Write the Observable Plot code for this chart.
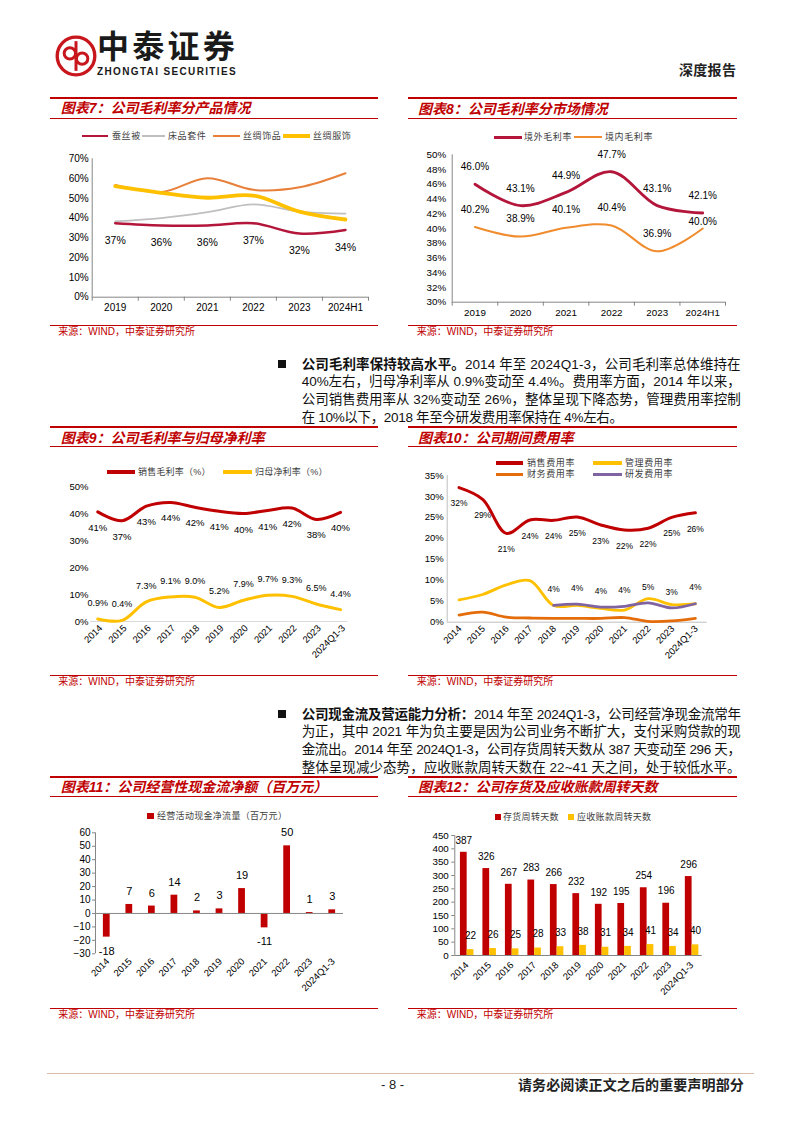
<!DOCTYPE html>
<html><head><meta charset="utf-8">
<script src="https://cdn.jsdelivr.net/npm/d3@7"></script>
<script src="https://cdn.jsdelivr.net/npm/@observablehq/plot@0.6"></script>
<style>
html,body{margin:0;padding:0;background:#fff;}
#page{position:relative;width:802px;height:1133px;overflow:hidden;font-family:"Liberation Sans","Noto Sans CJK SC",sans-serif;background:#fff;}
.hl{position:absolute;background:#C00000;}
.title{position:absolute;color:#C00000;font-weight:700;font-style:italic;font-size:14px;line-height:18px;white-space:nowrap;}
.src{position:absolute;color:#C00000;font-size:10px;line-height:12px;white-space:nowrap;}
.leg{position:absolute;font-size:9px;line-height:11px;white-space:nowrap;color:#404040;letter-spacing:0.6px;}
.lm{position:absolute;}
.pl{position:absolute;left:301.7px;height:17px;line-height:17px;font-size:13.5px;color:#111;white-space:nowrap;}
.pl b{font-weight:700;}
.bul{position:absolute;width:8px;height:8px;background:#111;}
svg{overflow:visible;}
</style>
</head><body>
<div id="page">
  <!-- header -->
  <svg class="lm" style="left:55px;top:35px" width="42" height="42" viewBox="0 0 48 48">
    <circle cx="24" cy="24" r="21.5" fill="none" stroke="#C8161D" stroke-width="3.8"/>
    <circle cx="17" cy="21" r="6.5" fill="none" stroke="#C8161D" stroke-width="3.4"/>
    <circle cx="31" cy="27" r="6.5" fill="none" stroke="#C8161D" stroke-width="3.4"/>
    <line x1="24" y1="7" x2="24" y2="41" stroke="#C8161D" stroke-width="3.4"/>
  </svg>
  <div class="lm fitw" data-w="141" style="left:97px;top:31px;font-size:32px;line-height:33px;height:33px;font-weight:700;color:#1a1a1a;white-space:nowrap;">中泰证券</div>
  <div class="lm fitw" data-w="140" style="left:97px;top:66px;font-size:10px;line-height:12px;height:12px;font-weight:700;color:#1a1a1a;white-space:nowrap;">ZHONGTAI SECURITIES</div>
  <div class="lm" style="left:679px;top:61px;font-size:14px;line-height:18px;font-weight:700;color:#222;white-space:nowrap;letter-spacing:0.3px;">深度报告</div>

  <!-- chart 7/8 frame -->
  <div class="hl" style="left:50px;top:97px;width:328px;height:2px"></div>
  <div class="hl" style="left:408px;top:97px;width:329px;height:2px"></div>
  <div class="title" style="left:60.7px;top:99.3px">图表7：公司毛利率分产品情况</div>
  <div class="title" style="left:418px;top:100px">图表8：公司毛利率分市场情况</div>
  <div class="hl" style="left:50px;top:118px;width:328px;height:1px"></div>
  <div class="hl" style="left:408px;top:118px;width:329px;height:1px"></div>
  <div class="hl" style="left:50px;top:325px;width:328px;height:1px"></div>
  <div class="hl" style="left:408px;top:325px;width:329px;height:1px"></div>
  <div class="src" style="left:58.3px;top:326.3px">来源：WIND，中泰证券研究所</div>
  <div class="src" style="left:416.7px;top:326.3px">来源：WIND，中泰证券研究所</div>

  <!-- legend 7 -->
  <div class="lm" style="left:82px;top:134.5px;width:26px;height:2.6px;background:#B3163A"></div>
  <div class="leg" style="left:112px;top:130.5px">蚕丝被</div>
  <div class="lm" style="left:142px;top:135px;width:23px;height:1.8px;background:#BFBFBF"></div>
  <div class="leg" style="left:168px;top:130.5px">床品套件</div>
  <div class="lm" style="left:213px;top:135px;width:27px;height:2px;background:#E8803A"></div>
  <div class="leg" style="left:243px;top:130.5px">丝绸饰品</div>
  <div class="lm" style="left:283px;top:134px;width:27px;height:4px;background:#FFC000"></div>
  <div class="leg" style="left:313px;top:130.5px">丝绸服饰</div>
  <!-- legend 8 -->
  <div class="lm" style="left:494px;top:135.5px;width:28px;height:3px;background:#B3163A"></div>
  <div class="leg" style="left:524px;top:131.5px">境外毛利率</div>
  <div class="lm" style="left:574px;top:136px;width:28px;height:2px;background:#F08C2E"></div>
  <div class="leg" style="left:605px;top:131.5px">境内毛利率</div>

  <!-- paragraph 1 -->
  <div class="bul" style="left:277.7px;top:360px"></div>
  <div class="pl" data-w="439" style="top:355.5px"><b>公司毛利率保持较高水平。</b>2014 年至 2024Q1-3，公司毛利率总体维持在</div>
  <div class="pl" data-w="439" style="top:373.2px">40%左右，归母净利率从 0.9%变动至 4.4%。费用率方面，2014 年以来，</div>
  <div class="pl" data-w="439" style="top:390.9px">公司销售费用率从 32%变动至 26%，整体呈现下降态势，管理费用率控制</div>
  <div class="pl" data-w="321" style="top:408.6px">在 10%以下，2018 年至今研发费用率保持在 4%左右。</div>

  <!-- chart 9/10 frame -->
  <div class="hl" style="left:50px;top:425.5px;width:328px;height:2px"></div>
  <div class="hl" style="left:408px;top:425.5px;width:329px;height:2px"></div>
  <div class="title" style="left:60.7px;top:429.3px">图表9：公司毛利率与归母净利率</div>
  <div class="title" style="left:418px;top:429px">图表10：公司期间费用率</div>
  <div class="hl" style="left:50px;top:445.5px;width:328px;height:1px"></div>
  <div class="hl" style="left:408px;top:445.5px;width:329px;height:1px"></div>
  <div class="hl" style="left:50px;top:675px;width:328px;height:1px"></div>
  <div class="hl" style="left:408px;top:675px;width:329px;height:1px"></div>
  <div class="src" style="left:58.3px;top:675.7px">来源：WIND，中泰证券研究所</div>
  <div class="src" style="left:416.7px;top:675.7px">来源：WIND，中泰证券研究所</div>
  <!-- legend 9 -->
  <div class="lm" style="left:107px;top:470px;width:28px;height:3.6px;background:#C00000"></div>
  <div class="leg" style="left:138px;top:466.5px;letter-spacing:0.2px">销售毛利率（%）</div>
  <div class="lm" style="left:223px;top:470px;width:29px;height:3.6px;background:#FFC000"></div>
  <div class="leg" style="left:255px;top:466.5px;letter-spacing:0.2px">归母净利率（%）</div>
  <!-- legend 10 -->
  <div class="lm" style="left:496px;top:461px;width:27px;height:3.6px;background:#C00000"></div>
  <div class="leg" style="left:527px;top:457.5px">销售费用率</div>
  <div class="lm" style="left:593px;top:461px;width:29px;height:3.6px;background:#FFC000"></div>
  <div class="leg" style="left:625px;top:457.5px">管理费用率</div>
  <div class="lm" style="left:496px;top:472.5px;width:27px;height:3.6px;background:#E46C0A"></div>
  <div class="leg" style="left:527px;top:469px">财务费用率</div>
  <div class="lm" style="left:593px;top:472.5px;width:29px;height:3.6px;background:#8064A2"></div>
  <div class="leg" style="left:625px;top:469px">研发费用率</div>

  <!-- paragraph 2 -->
  <div class="bul" style="left:277.7px;top:710px"></div>
  <div class="pl" data-w="439" style="top:705.5px"><b>公司现金流及营运能力分析：</b>2014 年至 2024Q1-3，公司经营净现金流常年</div>
  <div class="pl" data-w="439" style="top:723.2px">为正，其中 2021 年为负主要是因为公司业务不断扩大，支付采购贷款的现</div>
  <div class="pl" data-w="439" style="top:740.9px">金流出。2014 年至 2024Q1-3，公司存货周转天数从 387 天变动至 296 天，</div>
  <div class="pl" data-w="439" style="top:758.6px">整体呈现减少态势，应收账款周转天数在 22~41 天之间，处于较低水平。</div>

  <!-- chart 11/12 frame -->
  <div class="hl" style="left:50px;top:775.5px;width:328px;height:2px"></div>
  <div class="hl" style="left:408px;top:775.5px;width:329px;height:2px"></div>
  <div class="title" style="left:60.7px;top:777.7px">图表11：公司经营性现金流净额（百万元）</div>
  <div class="title" style="left:418px;top:777.7px">图表12：公司存货及应收账款周转天数</div>
  <div class="hl" style="left:50px;top:795.5px;width:328px;height:1px"></div>
  <div class="hl" style="left:408px;top:795.5px;width:329px;height:1px"></div>
  <div class="hl" style="left:50px;top:1008px;width:328px;height:1px"></div>
  <div class="hl" style="left:408px;top:1007.5px;width:329px;height:1px"></div>
  <div class="src" style="left:58.3px;top:1009px">来源：WIND，中泰证券研究所</div>
  <div class="src" style="left:416.7px;top:1008.5px">来源：WIND，中泰证券研究所</div>
  <!-- legend 11 -->
  <div class="lm" style="left:147px;top:812.7px;width:6.5px;height:6.5px;background:#C00000"></div>
  <div class="leg" style="left:157px;top:810.5px;letter-spacing:0.3px">经营活动现金净流量（百万元）</div>
  <!-- legend 12 -->
  <div class="lm" style="left:494.5px;top:813.7px;width:6px;height:6px;background:#C00000"></div>
  <div class="leg" style="left:503px;top:811.5px;letter-spacing:0.3px">存货周转天数</div>
  <div class="lm" style="left:567.5px;top:813.7px;width:6px;height:6px;background:#FFC000"></div>
  <div class="leg" style="left:577px;top:811.5px;letter-spacing:0.3px">应收账款周转天数</div>

  <!-- footer -->
  <div class="lm" style="left:47px;top:1072.5px;width:707px;height:1.5px;background:#D6BBA8"></div>
  <div class="lm" style="left:381px;top:1077px;font-size:13px;line-height:16px;color:#222;white-space:nowrap;">- 8 -</div>
  <div class="lm fitw" data-w="226" style="left:518px;top:1076px;font-size:14px;line-height:18px;font-weight:700;color:#222;white-space:nowrap;">请务必阅读正文之后的重要声明部分</div>
</div>
<script>
// ---------- data ----------
const years7 = ["2019", "2020", "2021", "2022", "2023", "2024H1"];
const silkQuilt = [37.4, 36.3, 36.3, 37.4, 32.2, 34.0];        // 蚕丝被
const beddingSet = [38.3, 40.0, 43.0, 46.9, 43.3, 42.3];       // 床品套件
const silkAccessories = [56.8, 53.2, 60.2, 54.3, 55.6, 62.7];  // 丝绸饰品
const silkApparel = [56.2, 52.8, 50.3, 51.4, 43.3, 39.3];      // 丝绸服饰
const yTicks7 = [0, 10, 20, 30, 40, 50, 60, 70];

const years8 = ["2019", "2020", "2021", "2022", "2023", "2024H1"];
const overseasMargin = [46.0, 43.1, 44.9, 47.7, 43.1, 42.1];   // 境外毛利率
const domesticMargin = [40.2, 38.9, 40.1, 40.4, 36.9, 40.0];   // 境内毛利率
const yTicks8 = [30, 32, 34, 36, 38, 40, 42, 44, 46, 48, 50];

const years11 = ["2014", "2015", "2016", "2017", "2018", "2019", "2020", "2021", "2022", "2023", "2024Q1-3"];
const grossMargin = [40.6, 37.3, 42.7, 44.1, 42.3, 40.8, 40.0, 41.1, 42.0, 37.8, 40.4]; // 销售毛利率
const netMargin = [0.9, 0.4, 7.3, 9.1, 9.0, 5.2, 7.9, 9.7, 9.3, 6.5, 4.4];            // 归母净利率
const yTicks9 = [0, 10, 20, 30, 40, 50];

const sellingRate = [32.1, 29.3, 21.2, 24.4, 24.3, 25.1, 23.2, 22.0, 22.4, 25.0, 26.1]; // 销售费用率
const adminRate = [5.3, 6.6, 8.9, 9.9, 4.0, 4.0, 3.3, 2.9, 5.6, 4.2, 4.4];              // 管理费用率
const financeRate = [1.7, 2.4, 1.2, 1.0, 0.9, 0.9, 0.9, 1.1, 0.2, 0.3, 0.9];            // 财务费用率
const rdRate = [null, null, null, null, 4.0, 4.3, 3.6, 3.8, 4.6, 3.4, 4.4];             // 研发费用率
const yTicks10 = [0, 5, 10, 15, 20, 25, 30, 35];

const operatingCashFlow = [-17.6, 6.7, 5.5, 13.6, 1.9, 3.4, 18.5, -10.7, 50.3, 0.7, 2.7];
const yTicks11 = [-30, -20, -10, 0, 10, 20, 30, 40, 50, 60];

const inventoryDays = [387, 326, 267, 283, 266, 232, 192, 195, 254, 196, 296];
const receivableDays = [22, 26, 25, 28, 33, 38, 31, 34, 41, 34, 40];
const yTicks12 = [0, 50, 100, 150, 200, 250, 300, 350, 400, 450];

// ---------- helpers ----------
const AX = "'Liberation Sans', Arial, sans-serif";
const AXC = "#868686";
const page = document.getElementById("page");
function place(svg, left, top) {
  svg.style.position = "absolute";
  svg.style.left = left + "px";
  svg.style.top = top + "px";
  svg.style.overflow = "visible";
  svg.style.background = "transparent";
  page.appendChild(svg);
}
const st = {fontFamily: AX, fontSize: "10px", color: "#000", background: "transparent", overflow: "visible"};
const ix = arr => arr.map((_, i) => i);
const bounds = n => d3.range(n + 1).map(k => k - 0.5);
const lastOf = arr => (d, i) => i === arr.length - 1;

// ---------- chart 7 ----------
place(Plot.plot({
  width: 340, height: 175, marginLeft: 51.7, marginRight: 12, marginTop: 13.3, marginBottom: 23.3,
  x: {type: "linear", domain: [-0.5, 5.5]}, y: {domain: [0, 70]}, style: st,
  marks: [
    Plot.ruleX([-0.5], {stroke: AXC}),
    Plot.ruleY([0], {stroke: AXC}),
    Plot.axisY(yTicks7, {tickSize: 0, tickPadding: 3.5, tickFormat: d => d + "%", fontSize: 10}),
    Plot.axisX(ix(years7), {tickSize: 0, tickPadding: 6.5, tickFormat: i => years7[i], fontSize: 10}),
    Plot.axisX(bounds(years7.length), {tickSize: 4, tickFormat: () => "", stroke: AXC}),
    Plot.lineY(beddingSet, {x: (d, i) => i, y: d => d, curve: "catmull-rom", stroke: "#BFBFBF", strokeWidth: 1.8}),
    Plot.lineY(silkAccessories, {x: (d, i) => i, y: d => d, curve: "catmull-rom", stroke: "#E8803A", strokeWidth: 2}),
    Plot.lineY(silkApparel, {x: (d, i) => i, y: d => d, curve: "catmull-rom", stroke: "#FFC000", strokeWidth: 3.8}),
    Plot.lineY(silkQuilt, {x: (d, i) => i, y: d => d, curve: "catmull-rom", stroke: "#B3163A", strokeWidth: 2.5}),
    Plot.text(silkQuilt, {x: (d, i) => i, y: d => d, text: d => Math.round(d) + "%", dy: 17.5, fontSize: 10.5, fill: "#000"})
  ]
}), 40, 145);

// ---------- chart 8 ----------
place(Plot.plot({
  width: 340, height: 185, marginLeft: 46.7, marginRight: 20, marginTop: 14.3, marginBottom: 23.3,
  x: {type: "linear", domain: [-0.5, 5.5]}, y: {domain: [30, 50]}, style: st,
  marks: [
    Plot.ruleX([-0.5], {stroke: AXC}),
    Plot.ruleY([30], {stroke: AXC}),
    Plot.axisY(yTicks8, {tickSize: 0, tickPadding: 6, tickFormat: d => d + "%", fontSize: 9.8}),
    Plot.axisX(ix(years8), {tickSize: 0, tickPadding: 7, tickFormat: i => years8[i], fontSize: 9.8}),
    Plot.axisX(bounds(years8.length), {tickSize: 4, tickFormat: () => "", stroke: AXC}),
    Plot.lineY(domesticMargin, {x: (d, i) => i, y: d => d, curve: "catmull-rom", stroke: "#F08C2E", strokeWidth: 2}),
    Plot.lineY(overseasMargin, {x: (d, i) => i, y: d => d, curve: "catmull-rom", stroke: "#B3163A", strokeWidth: 2.8}),
    Plot.text(overseasMargin, {x: (d, i) => i, y: d => d, text: d => d.toFixed(1) + "%", dy: -17, fontSize: 10, fill: "#000"}),
    Plot.text(domesticMargin, {filter: (d, i) => i < domesticMargin.length - 1, x: (d, i) => i, y: d => d, text: d => d.toFixed(1) + "%", dy: -17.5, fontSize: 10, fill: "#000"}),
    Plot.text(domesticMargin, {filter: lastOf(domesticMargin), x: (d, i) => i, y: d => d, text: d => d.toFixed(1) + "%", dy: -7, fontSize: 10, fill: "#000"})
  ]
}), 405, 140);

// ---------- chart 9 ----------
place(Plot.plot({
  width: 340, height: 195, marginLeft: 50, marginRight: 32.7, marginTop: 8, marginBottom: 52,
  x: {type: "linear", domain: [-0.3, 10.3]}, y: {domain: [0, 50]}, style: st,
  marks: [
    Plot.ruleY([0], {stroke: "#D9D9D9"}),
    Plot.axisY(yTicks9, {tickSize: 0, tickPadding: 2, tickFormat: d => d + "%", fontSize: 9.5}),
    Plot.axisX(ix(years11), {tickSize: 0, tickPadding: 5, tickRotate: -45, tickFormat: i => years11[i], fontSize: 9.5, dx: 3}),
    Plot.lineY(grossMargin, {x: (d, i) => i, y: d => d, curve: "catmull-rom", stroke: "#C00000", strokeWidth: 3}),
    Plot.lineY(netMargin, {x: (d, i) => i, y: d => d, curve: "catmull-rom", stroke: "#FFC000", strokeWidth: 3}),
    Plot.text(grossMargin, {x: (d, i) => i, y: d => d, text: d => Math.round(d) + "%", dy: 16, fontSize: 9.5, fill: "#000"}),
    Plot.text(netMargin, {x: (d, i) => i, y: d => d, text: d => d.toFixed(1) + "%", dy: -16, fontSize: 9, fill: "#000"})
  ]
}), 40, 478);

// ---------- chart 10 ----------
place(Plot.plot({
  width: 340, height: 205, marginLeft: 41.7, marginRight: 38.3, marginTop: 5, marginBottom: 53.3,
  x: {type: "linear", domain: [-0.5, 10.5]}, y: {domain: [0, 35]}, style: st,
  marks: [
    Plot.ruleX([-0.5], {stroke: "#BFBFBF"}),
    Plot.ruleY([0], {stroke: "#BFBFBF"}),
    Plot.axisY(yTicks10, {tickSize: 0, tickPadding: 3.4, tickFormat: d => d + "%", fontSize: 9.5}),
    Plot.axisX(ix(years11), {tickSize: 0, tickPadding: 5, tickRotate: -45, tickFormat: i => years11[i], fontSize: 9.5, dx: 1}),
    Plot.lineY(financeRate, {x: (d, i) => i, y: d => d, curve: "catmull-rom", stroke: "#E46C0A", strokeWidth: 2.8}),
    Plot.lineY(adminRate, {x: (d, i) => i, y: d => d, curve: "catmull-rom", stroke: "#FFC000", strokeWidth: 2.8}),
    Plot.lineY(rdRate, {x: (d, i) => i, y: d => d, curve: "catmull-rom", stroke: "#8064A2", strokeWidth: 2.8}),
    Plot.lineY(sellingRate, {x: (d, i) => i, y: d => d, curve: "catmull-rom", stroke: "#C00000", strokeWidth: 3}),
    Plot.text(sellingRate, {x: (d, i) => i, y: d => d, text: d => Math.round(d) + "%", dy: 16, fontSize: 8.5, fill: "#000"}),
    Plot.text(rdRate, {filter: d => d != null, x: (d, i) => i, y: d => d, text: d => Math.round(d) + "%", dy: -16, fontSize: 8.5, fill: "#000"})
  ]
}), 405, 470);

// ---------- chart 11 ----------
place(Plot.plot({
  width: 340, height: 180, marginLeft: 55, marginRight: 37, marginTop: 7.3, marginBottom: 51.7,
  x: {type: "linear", domain: [-0.5, 10.5]}, y: {domain: [-30, 60]}, style: st,
  marks: [
    Plot.ruleX([-0.5], {stroke: AXC}),
    Plot.axisY(yTicks11, {tickSize: 3, tickPadding: 2, stroke: AXC, fontSize: 10}),
    Plot.axisX(ix(years11), {tickSize: 0, tickPadding: 6, tickRotate: -45, tickFormat: i => years11[i], fontSize: 9.5, dx: 1}),
    Plot.rectY(operatingCashFlow, {x1: (d, i) => i - 0.15, x2: (d, i) => i + 0.15, y1: 0, y2: d => d, fill: "#C00000"}),
    Plot.ruleY([0], {stroke: AXC}),
    Plot.text(operatingCashFlow, {filter: d => d >= 0, x: (d, i) => i, y: d => d, text: d => Math.round(d), dy: -13, fontSize: 11, fill: "#000"}),
    Plot.text(operatingCashFlow, {filter: d => d < 0, x: (d, i) => i, y: d => d, text: d => Math.round(d), dy: 14, fontSize: 11, fill: "#000"})
  ]
}), 40, 825);

// ---------- chart 12 ----------
place(Plot.plot({
  width: 340, height: 180, marginLeft: 49.3, marginRight: 43.3, marginTop: 10, marginBottom: 50,
  x: {type: "linear", domain: [-0.5, 10.5]}, y: {domain: [0, 450]}, style: st,
  marks: [
    Plot.ruleX([-0.5], {stroke: AXC}),
    Plot.axisY(yTicks12, {tickSize: 3, tickPadding: 3, stroke: AXC, fontSize: 9.8}),
    Plot.axisX(ix(years11), {tickSize: 0, tickPadding: 8, tickRotate: -45, tickFormat: i => years11[i], fontSize: 9.5, dx: 1}),
    Plot.rectY(inventoryDays, {x1: (d, i) => i - 0.25, x2: (d, i) => i + 0.05, y1: 0, y2: d => d, fill: "#C00000"}),
    Plot.rectY(receivableDays, {x1: (d, i) => i + 0.05, x2: (d, i) => i + 0.35, y1: 0, y2: d => d, fill: "#FFC000"}),
    Plot.ruleY([0], {stroke: AXC}),
    Plot.text(inventoryDays, {x: (d, i) => i - 0.1, y: d => d, text: d => d, dy: -12, fontSize: 10, fill: "#000"}),
    Plot.text(receivableDays, {x: (d, i) => i + 0.2, y: d => d, text: d => d, dy: -14, fontSize: 10, fill: "#000"})
  ]
}), 405, 825);

// ---------- fit text lines to their measured widths ----------
function fit() {
  document.querySelectorAll(".pl, .fitw").forEach(el => {
    el.style.letterSpacing = "0px";
    const w = el.getBoundingClientRect().width;
    const n = [...el.textContent].length;
    el.style.letterSpacing = ((+el.dataset.w - w) / n) + "px";
  });
}
fit();
if (document.fonts && document.fonts.ready) document.fonts.ready.then(fit);
</script>
</body></html>
